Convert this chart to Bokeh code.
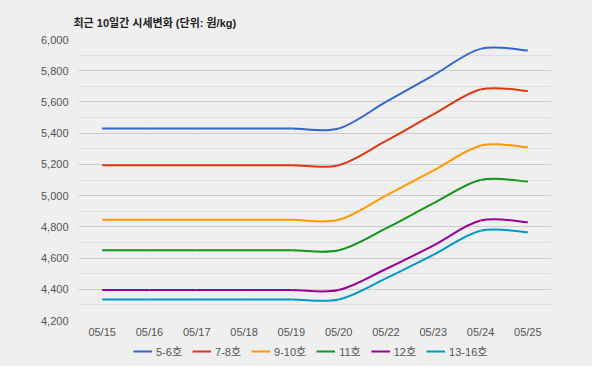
import numpy as np
from bokeh.plotting import figure
from bokeh.layouts import column
from bokeh.models import (Range1d, FixedTicker, NumeralTickFormatter, Legend, LegendItem,
                          ColumnDataSource)
from bokeh.embed import file_html
from bokeh.resources import INLINE

dates = ["05/15", "05/16", "05/17", "05/18", "05/19", "05/20", "05/22", "05/23", "05/24", "05/25"]
names = ["5-6호", "7-8호", "9-10호", "11호", "12호", "13-16호"]
s_5_6 = [5430, 5430, 5430, 5430, 5430, 5430, 5600, 5770, 5940, 5930]
s_7_8 = [5195, 5195, 5195, 5195, 5195, 5195, 5350, 5520, 5680, 5670]
s_9_10 = [4845, 4845, 4845, 4845, 4845, 4845, 5000, 5160, 5320, 5310]
s_11 = [4650, 4650, 4650, 4650, 4650, 4650, 4790, 4950, 5100, 5090]
s_12 = [4395, 4395, 4395, 4395, 4395, 4395, 4530, 4680, 4840, 4830]
s_13_16 = [4335, 4335, 4335, 4335, 4335, 4335, 4470, 4620, 4775, 4765]
series = [s_5_6, s_7_8, s_9_10, s_11, s_12, s_13_16]
colors = ["#3366cc", "#dc3912", "#ff9900", "#109618", "#990099", "#0099c6"]
y_ticks = [4200, 4400, 4600, 4800, 5000, 5200, 5400, 5600, 5800, 6000]
y_minor = [4300, 4500, 4700, 4900, 5100, 5300, 5500, 5700, 5900]

BG = "#efefef"
FONT = "Liberation Sans, Noto Sans CJK KR"
TXT = "#555555"

p = figure(width=592, height=340, output_backend="svg", toolbar_location=None,
           x_range=Range1d(-0.5, len(dates) - 0.5), y_range=Range1d(4200, 6000),
           min_border_left=78, min_border_right=41, min_border_top=39, min_border_bottom=20,
           title="최근 10일간 시세변화 (단위: 원/kg)")
p.background_fill_color = BG
p.border_fill_color = BG
p.outline_line_color = None

p.title.text_font = FONT
p.title.text_font_size = "11px"
p.title.text_font_style = "bold"
p.title.text_color = "#222222"
p.title.align = "left"
p.title.offset = -5
p.title.standoff = 22

xs = list(range(len(dates)))
p.xaxis.ticker = FixedTicker(ticks=xs)
p.xaxis.major_label_overrides = {i: d for i, d in enumerate(dates)}
p.yaxis.ticker = FixedTicker(ticks=y_ticks, minor_ticks=y_minor)
p.yaxis.formatter = NumeralTickFormatter(format="0,0")
for ax in (p.xaxis, p.yaxis):
    ax.axis_line_color = None
    ax.major_tick_line_color = None
    ax.minor_tick_line_color = None
    ax.major_tick_out = 0
    ax.minor_tick_out = 0
    ax.major_label_text_font = FONT
    ax.major_label_text_font_size = "11px"
    ax.major_label_text_color = TXT
p.yaxis.major_label_standoff = 10
p.xaxis.major_label_standoff = 5

p.xgrid.grid_line_color = None
p.ygrid.grid_line_color = "#cccccc"
p.ygrid.minor_grid_line_color = "#dddddd"

n = len(dates)
for ys, col in zip(series, colors):
    x0, y0, x1, y1, cx0, cy0, cx1, cy1 = [], [], [], [], [], [], [], []
    for i in range(n - 1):
        pa = ys[i - 1] if i > 0 else ys[i]
        pb = ys[i]
        pc = ys[i + 1]
        pd = ys[i + 2] if i + 2 < n else ys[i + 1]
        xa = xs[i - 1] if i > 0 else xs[i]
        xd = xs[i + 2] if i + 2 < n else xs[i + 1]
        x0.append(xs[i]); y0.append(pb)
        x1.append(xs[i + 1]); y1.append(pc)
        cx0.append(xs[i] + (xs[i + 1] - xa) / 6.0); cy0.append(pb + (pc - pa) / 6.0)
        cx1.append(xs[i + 1] - (xd - xs[i]) / 6.0); cy1.append(pc - (pd - pb) / 6.0)
    src = ColumnDataSource(dict(x0=x0, y0=y0, x1=x1, y1=y1, cx0=cx0, cy0=cy0, cx1=cx1, cy1=cy1))
    p.bezier(x0="x0", y0="y0", x1="x1", y1="y1", cx0="cx0", cy0="cy0", cx1="cx1", cy1="cy1",
             source=src, line_color=col, line_width=2)

# legend strip below the chart (frame is aligned with the chart's frame by the column)
p2 = figure(width=592, height=26, output_backend="svg", toolbar_location=None,
            x_range=Range1d(0, 1), y_range=Range1d(0, 1), min_border=0,
            min_border_left=78, min_border_right=41)
p2.background_fill_color = BG
p2.border_fill_color = BG
p2.outline_line_color = None
p2.axis.visible = False
p2.grid.grid_line_color = None
items = []
for name, col in zip(names, colors):
    r = p2.line(x=np.array([np.nan]), y=np.array([np.nan]), line_color=col, line_width=2)
    items.append(LegendItem(label=name, renderers=[r]))
legend = Legend(items=items, orientation="horizontal", location=(55, 7),
                background_fill_alpha=0, border_line_color=None,
                label_text_font=FONT, label_text_font_size="11px", label_text_color=TXT,
                glyph_width=19, glyph_height=12, label_height=12, label_standoff=4, spacing=10,
                padding=2, margin=0)
p2.add_layout(legend, "center")

layout = column(p, p2, spacing=0, styles={"background-color": BG})
open("out.html", "w").write(file_html(layout, INLINE))
